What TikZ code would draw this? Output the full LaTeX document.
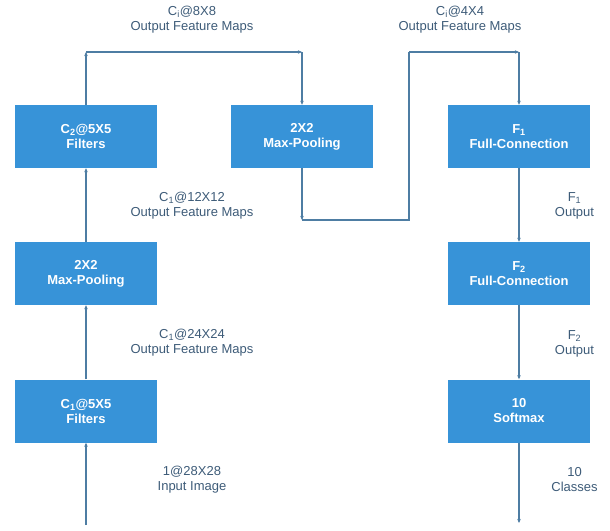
\documentclass[tikz,border=0pt]{standalone}
\usepackage{fontspec}
\setmainfont{Liberation Sans}
\usepackage{xcolor}
\usepackage{tikz}
\usetikzlibrary{arrows.meta, positioning}

\definecolor{boxblue}{HTML}{3793D8}
\definecolor{labelgray}{HTML}{3D5B78}
\definecolor{linkgray}{HTML}{4E7DA3}

\tikzset{
  layer/.style={fill=boxblue, draw=none, text=white, font=\fontsize{13}{15}\selectfont\bfseries,
    align=center, minimum width=142pt, minimum height=63pt, inner sep=0pt},
  note/.style={text=labelgray, font=\fontsize{13}{15}\selectfont, align=center, inner sep=0pt},
  link/.style={draw=linkgray, line width=1.1pt},
  tipped/.style={link, -{Stealth[length=4pt, width=3.5pt]}}
}

\begin{document}
\begin{tikzpicture}[x=1pt, y=-1pt]
\useasboundingbox (0,0) rectangle (610,530);
% --- left column: input, conv 1, pool 1, conv 2 ---
\node[layer] (conv1) at (86,411) {C\textsubscript{1}@5X5\\Filters};
\node[layer] (pool1) at (86,273.5) {2X2\\Max-Pooling};
\node[layer] (conv2) at (86,136.5) {C\textsubscript{2}@5X5\\Filters};
% --- middle and right column ---
\node[layer] (pool2) at (302,136.5) {2X2\\Max-Pooling};
\node[layer] (full1) at (519,136.5) {F\textsubscript{1}\\Full-Connection};
\node[layer] (full2) at (519,273.5) {F\textsubscript{2}\\Full-Connection};
\node[layer] (soft) at (519,411) {10\\Softmax};
% labels
\node[note] (lblin) at (192,480) {1@28X28\\Input Image};
\node[note] (lblc1) at (192,343) {C\textsubscript{1}@24X24\\Output Feature Maps};
\node[note] (lblp1) at (192,206) {C\textsubscript{1}@12X12\\Output Feature Maps};
\node[note] (lblc2) at (192,19.5) {C\textsubscript{i}@8X8\\Output Feature Maps};
\node[note] (lblp2) at (460,19.5) {C\textsubscript{i}@4X4\\Output Feature Maps};
\node[note] (lblf1) at (574.5,206) {F\textsubscript{1}\\Output};
\node[note] (lblf2) at (574.5,344) {F\textsubscript{2}\\Output};
\node[note] (lblout) at (574.5,480) {10\\Classes};
% corners of the routed connectors
\coordinate (input) at (86,525);
\coordinate (up1) at (86,52);
\coordinate (over1) at (302,52);
\coordinate (down2) at (302,220);
\coordinate (over2) at (409,220);
\coordinate (up2) at (409,52);
\coordinate (over3) at (519,52);
\coordinate (output) at (519,523);
% connectors
\draw[tipped] (input) -- (conv1.south);
\draw[tipped] (conv1.north) -- (pool1.south);
\draw[tipped] (pool1.north) -- (conv2.south);
\draw[tipped] (conv2.north) -- (up1);
\draw[tipped] (up1) -- (over1);
\draw[tipped] (over1) -- (pool2.north);
\draw[tipped] (pool2.south) -- (down2);
\draw[link] (down2) -- (over2) -- (up2);
\draw[tipped] (up2) -- (over3);
\draw[tipped] (over3) -- (full1.north);
\draw[tipped] (full1.south) -- (full2.north);
\draw[tipped] (full2.south) -- (soft.north);
\draw[tipped] (soft.south) -- (output);
\end{tikzpicture}
\end{document}
